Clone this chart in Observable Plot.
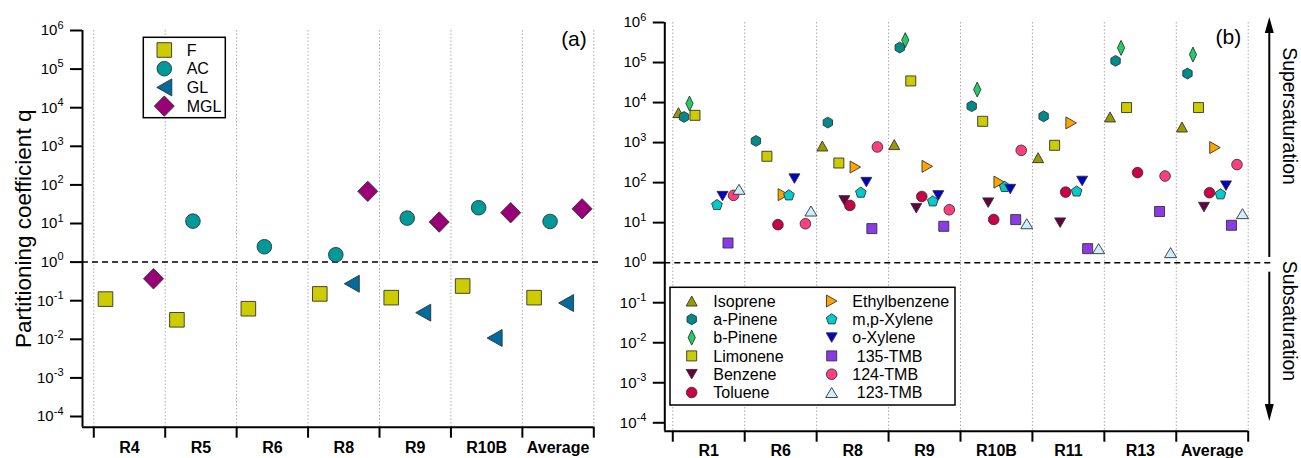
<!DOCTYPE html>
<html><head><meta charset="utf-8">
<script src="https://cdn.jsdelivr.net/npm/d3@7"></script>
<script src="https://cdn.jsdelivr.net/npm/@observablehq/plot@0.6"></script>
<style>
body{margin:0;background:#fff;}
#wrap{position:relative;width:1301px;height:458px;font-family:"Liberation Sans",Arial,sans-serif;}
#left,#right{position:absolute;top:0;}
#left{left:0px} #right{left:610px}
</style></head><body><div id="wrap"><div id="left"></div><div id="right"></div></div>
<script>
// ---------- Panel (a) data ----------
const leftRuns = ["R4","R5","R6","R8","R9","R10B","Average"];
const leftSeries = ["F","AC","GL","MGL"];
const qF   = [0.11, 0.032, 0.062, 0.15, 0.12, 0.24, 0.12];
const qAC  = [null, 11.5, 2.5, 1.55, 13.8, 25.6, 11.3];
const qGL  = [null, null, null, 0.275, 0.049, 0.0108, 0.087];
const qMGL = [0.37, null, null, 68, 10.9, 19, 24];
const leftColors = ["#cccc00","#009999","#006b9e","#990077"];

// ---------- Panel (b) data ----------
const rightRuns = ["R1","R6","R8","R9","R10B","R11","R13","Average"];
const rightSpecies = ["Isoprene","a-Pinene","b-Pinene","Limonene","Benzene","Toluene","Ethylbenzene","m,p-Xylene","o-Xylene","135-TMB","124-TMB","123-TMB"];
const isoprene     = [5600, null, 822, 890, null, 420, 4370, 2450];
const aPinene      = [4370, 1100, 3160, 237000, 8100, 4530, 110000, 53100];
const bPinene      = [9440, null, null, 363000, 21100, null, 232000, 158000];
const limonene     = [4800, 455, 309, 34700, 3400, 855, 7500, 7500];
const benzene      = [null, null, 36, 23, 31.6, 10, null, 24.5];
const toluene      = [null, 8.9, 27, 45, 12, 58, 178, 56];
const ethylbenzene = [null, 50, 245, 255, 103, 3100, null, 750];
const mpXylene     = [27.5, 48, 56, 34, 78, 60, null, 51];
const oXylene      = [46, 126, 103, 48, 69, 110, null, 84];
const tmb135       = [3.1, null, 7.1, 8.1, 11.9, 2.24, 19, 8.6];
const tmb124       = [48, 9.4, 778, 21, 640, null, 146, 282];
const tmb123       = [68, 19.5, null, null, 9.4, 2.24, 1.78, 16.8];
const rightColors = ["#999900","#008b8b","#22cc66","#cccc00","#660044","#cc0044","#ffa500","#00cccc","#0000cc","#8a3be6","#ff3d7f","#cceeff"];

const exponents = [-4,-3,-2,-1,0,1,2,3,4,5,6];

// ---------- symbols ----------
function poly(pts){ return {draw(ctx){ ctx.moveTo(pts[0][0],pts[0][1]); for (let i=1;i<pts.length;i++) ctx.lineTo(pts[i][0],pts[i][1]); ctx.closePath(); }}; }
const symSquare = h => poly([[-h,-h],[h,-h],[h,h],[-h,h]]);
const symCircle = r => ({draw(ctx){ ctx.moveTo(r,0); ctx.arc(0,0,r,0,2*Math.PI); ctx.closePath(); }});
const symTriUp = (w,h) => poly([[0,-h/2],[w/2,h/2],[-w/2,h/2]]);
const symTriDown = (w,h) => poly([[0,h/2],[w/2,-h/2],[-w/2,-h/2]]);
const symTriLeft = (w,h) => poly([[-w/2,0],[w/2,-h/2],[w/2,h/2]]);
const symTriRight = (w,h) => poly([[w/2,0],[-w/2,-h/2],[-w/2,h/2]]);
const symNgon = (n,r) => poly(d3.range(n).map(k => { const a = -Math.PI/2 + 2*Math.PI*k/n; return [r*Math.cos(a), r*Math.sin(a)]; }));
const symDiamond = (hw,hh) => poly([[0,-hh],[hw,0],[0,hh],[-hw,0]]);

const leftSyms = [symSquare(7.3), symCircle(7.3), symTriLeft(15,17), symDiamond(10,10.2)];
const rightSyms = [symTriUp(11,10), symNgon(6,5.4), symDiamond(3.6,7.5), symSquare(5), symTriDown(11,9.5), symCircle(5.3),
                   symTriRight(10.5,12), symNgon(5,5.6), symTriDown(11,9.5), symSquare(5), symCircle(5.3), symTriUp(12,10)];

const fontFam = '"Liberation Sans", Arial, sans-serif';

function seriesDots(values, cats, nSlots, slotW, symbols, colors){
  return values.map((vals, i) => {
    const data = vals.map((v, c) => ({c, v})).filter(d => d.v != null);
    return Plot.dot(data, {x: d => d.c + 0.5 + (i - (nSlots-1)/2) * slotW, y: "v",
      symbol: symbols[i], fill: colors[i], stroke: "#333", strokeWidth: 0.9, r: 5});
  });
}

function supers(node){
  d3.select(node).selectAll('g[aria-label="y-axis tick label"] text').each(function(){
    const e = this.textContent;
    const t = d3.select(this);
    t.text("10");
    t.append("tspan").attr("dy","-0.6em").attr("font-size","11px").text(e);
  });
}

function legend(node, box, items, fontSize){
  const g = d3.select(node).append("g").attr("text-anchor","start");
  g.append("rect").attr("x",box[0]).attr("y",box[1]).attr("width",box[2]-box[0]).attr("height",box[3]-box[1])
    .attr("fill","#fff").attr("stroke","#000").attr("stroke-width",1.5);
  for (const it of items){
    const p = d3.path(); it.sym.draw(p, 30);
    g.append("path").attr("d", p.toString()).attr("transform",`translate(${it.sx},${it.y})`)
      .attr("fill", it.color).attr("stroke","#333").attr("stroke-width",0.9);
    g.append("text").attr("x", it.tx).attr("y", it.y).attr("dy","0.35em").attr("font-size",fontSize)
      .attr("text-anchor","start").attr("font-family",fontFam).attr("xml:space","preserve").text(it.label);
  }
}

// ---------- Left plot ----------
const lx0 = -0.158, lyMin = Math.pow(10,-4.277);
const leftPlot = Plot.plot({
  width: 610, height: 458,
  marginLeft: 82, marginRight: 16.7, marginTop: 30, marginBottom: 31.3,
  style: {fontFamily: fontFam, fontSize: "15px", background: "transparent", overflow: "visible", color: "#000"},
  x: {type: "linear", domain: [lx0, leftRuns.length]},
  y: {type: "log", domain: [lyMin, 1e6]},
  marks: [
    Plot.ruleX(d3.range(0, leftRuns.length + 1), {stroke: "#aaa", strokeDasharray: "1.5,2"}),
    Plot.ruleY([1], {x1: lx0, x2: leftRuns.length + 0.07, stroke: "#000", strokeWidth: 1.5, strokeDasharray: "6,4"}),
    ...seriesDots([qF, qAC, qGL, qMGL], leftRuns, 4, 0.224, leftSyms, leftColors),
    Plot.axisY({ticks: exponents.map(e => Math.pow(10, e)), tickSize: 12, tickPadding: 7, tickFormat: d => String(Math.round(Math.log10(d))), strokeWidth: 2, fontSize: 15, label: null}),
    Plot.axisX({ticks: d3.range(0, leftRuns.length + 1), tickSize: 11, tickFormat: () => "", strokeWidth: 2, label: null}),
    Plot.axisX({ticks: leftRuns.map((_, i) => i + 0.5), tickSize: 0, tickPadding: 14.6, tickFormat: d => leftRuns[Math.floor(d)], fontSize: 16, fontWeight: "bold", label: null}),
    Plot.ruleX([lx0], {strokeWidth: 2}),
    Plot.ruleY([lyMin], {x1: lx0, x2: leftRuns.length, strokeWidth: 2}),
    Plot.text(["Partitioning coefficient q"], {frameAnchor: "left", textAnchor: "middle", lineAnchor: "middle", dx: -59, rotate: -90, fontSize: 22.5}),
    Plot.text(["(a)"], {frameAnchor: "top-right", lineAnchor: "middle", textAnchor: "end", dx: -7, dy: 9, fontSize: 21})
  ]
});
supers(leftPlot);
legend(leftPlot, [143.3, 37.3, 225.3, 117.7],
  leftSeries.map((s, i) => ({sym: leftSyms[i], color: leftColors[i], label: s, sx: 164.3, tx: 186.7, y: 50 + i * 18.7})), 16);
document.getElementById("left").appendChild(leftPlot);

// ---------- Right plot ----------
const rx0 = -0.111, ryMin = Math.pow(10,-4.21);
const rightPlot = Plot.plot({
  width: 691, height: 458,
  marginLeft: 54.3, marginRight: 53.3, marginTop: 22, marginBottom: 27.3,
  style: {fontFamily: fontFam, fontSize: "15px", background: "transparent", overflow: "visible", color: "#000"},
  x: {type: "linear", domain: [rx0, rightRuns.length]},
  y: {type: "log", domain: [ryMin, 1e6]},
  marks: [
    Plot.ruleX(d3.range(0, rightRuns.length + 1), {stroke: "#aaa", strokeDasharray: "1.5,2"}),
    Plot.ruleY([1], {x1: rx0, x2: rightRuns.length + 0.36, stroke: "#000", strokeWidth: 1.5, strokeDasharray: "6,4"}),
    ...seriesDots([isoprene, aPinene, bPinene, limonene, benzene, toluene, ethylbenzene, mpXylene, oXylene, tmb135, tmb124, tmb123], rightRuns, 12, 0.0765, rightSyms, rightColors),
    Plot.axisY({ticks: exponents.map(e => Math.pow(10, e)), tickSize: 11.5, tickPadding: 7, tickFormat: d => String(Math.round(Math.log10(d))), strokeWidth: 2, fontSize: 15, label: null}),
    Plot.axisX({ticks: d3.range(0, rightRuns.length + 1), tickSize: 11, tickFormat: () => "", strokeWidth: 2, label: null}),
    Plot.axisX({ticks: rightRuns.map((_, i) => i + 0.5), tickSize: 0, tickPadding: 13.6, tickFormat: d => rightRuns[Math.floor(d)], fontSize: 16, fontWeight: "bold", label: null}),
    Plot.ruleX([rx0], {strokeWidth: 2}),
    Plot.ruleY([ryMin], {x1: rx0, x2: rightRuns.length, strokeWidth: 2}),
    Plot.text(["(b)"], {frameAnchor: "top-right", lineAnchor: "middle", textAnchor: "end", dx: -7, dy: 15, fontSize: 21})
  ]
});
supers(rightPlot);
const legItems = rightSpecies.map((s, i) => {
  const col = i < 6 ? 0 : 1, row = i % 6;
  const lab = (s === "135-TMB" || s === "123-TMB") ? " " + s : s;
  return {sym: rightSyms[i], color: rightColors[i], label: lab, sx: col ? 221.7 : 81.7, tx: col ? 242.3 : 103.3, y: 301 + row * 18.3};
});
legend(rightPlot, [60, 287.3, 345, 405], legItems, 16);
// saturation arrows
{
  const g = d3.select(rightPlot).append("g");
  const ax = 659.3;
  g.append("line").attr("x1",ax).attr("x2",ax).attr("y1",257).attr("y2",30).attr("stroke","#000").attr("stroke-width",2);
  g.append("path").attr("d",`M${ax},17L${ax+4.5},33L${ax-4.5},33Z`).attr("fill","#000");
  g.append("line").attr("x1",ax).attr("x2",ax).attr("y1",271.7).attr("y2",406).attr("stroke","#000").attr("stroke-width",2);
  g.append("path").attr("d",`M${ax},421L${ax+4.5},404L${ax-4.5},404Z`).attr("fill","#000");
  g.append("text").attr("transform","translate(680,116) rotate(90)").attr("text-anchor","middle").attr("dy","0.35em")
    .attr("font-size",19.5).attr("font-family",fontFam).text("Supersaturation");
  g.append("text").attr("transform","translate(680,321) rotate(90)").attr("text-anchor","middle").attr("dy","0.35em")
    .attr("font-size",19.5).attr("font-family",fontFam).text("Subsaturation");
}
document.getElementById("right").appendChild(rightPlot);
</script></body></html>
